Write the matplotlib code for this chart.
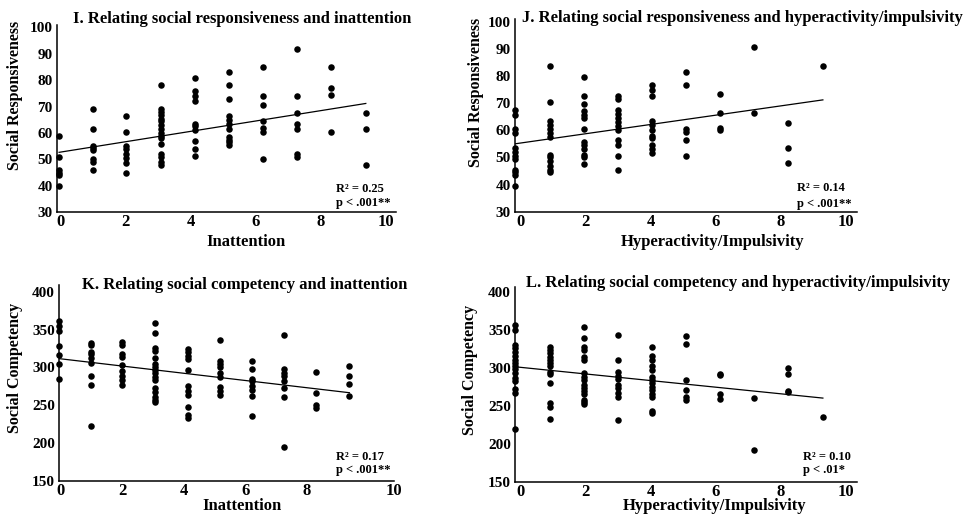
import matplotlib
matplotlib.use("Agg")
import matplotlib.pyplot as plt

# Values (one list per score level)
resp_inatt = [
    [59, 51, 46, 45, 44, 40],
    [69, 61.5, 55, 54.5, 53.5, 50, 49, 46],
    [66.5, 60.5, 55, 54, 52, 50.5, 48.5, 45],
    [78, 69, 68, 67, 65.5, 64.5, 63, 61.5, 60, 59, 58, 56, 52, 51, 49, 48],
    [81, 76, 74, 72, 63.5, 62.5, 61, 57, 54, 51.5],
    [83, 78, 73, 66.5, 65, 63.5, 61.5, 58.5, 57.5, 56.5, 55.5],
    [85, 74, 70.5, 64.5, 62, 60.5, 50],
    [92, 74, 67.5, 63.5, 61.5, 52, 51],
    [85, 77, 74.5, 60.5],
    [67.5, 61.5, 48],
]
resp_hyper = [
    [67.5, 65.5, 60.5, 59, 53.5, 52, 50.5, 49.5, 45.5, 44.5, 43.5, 39.5],
    [83.5, 70.5, 63.5, 62, 60.5, 59, 57.5, 51, 50, 48.5, 47, 45.5, 44.5],
    [79.5, 72.5, 69.5, 67, 65.5, 64.5, 60.5, 55.5, 54.5, 53, 51, 50, 47.5],
    [72.5, 71.5, 67.5, 66, 64.5, 63, 61.5, 60, 56.5, 54.5, 50.5, 45.5],
    [76.5, 75, 72.5, 63.5, 62, 60, 58, 57, 54.5, 53, 51.5],
    [81.5, 76.5, 60.5, 59.5, 56.5, 50.5],
    [73.5, 66.5, 61, 60],
    [90.5, 66.5],
    [62.5, 53.5, 48],
    [83.5],
]
comp_inatt = [
    [361, 354, 348, 328, 316, 304, 285],
    [332, 329, 320, 317, 312, 306, 289, 276, 222],
    [334, 330, 318, 314, 303, 295, 289, 283, 277],
    [358, 346, 326, 322, 312, 305, 300, 296, 292, 287, 283, 273, 267, 261, 257, 254],
    [324, 320, 315, 311, 297, 275, 269, 263, 247, 237, 233],
    [336, 309, 305, 300, 293, 287, 274, 269, 264],
    [308, 298, 285, 282, 275, 270, 262, 236],
    [343, 298, 293, 288, 282, 273, 261, 194],
    [294, 266, 250, 246],
    [302, 288, 278, 262],
]
comp_hyper = [
    [357, 350, 330, 326, 321, 316, 311, 307, 303, 298, 293, 287, 283, 272, 267, 219],
    [328, 324, 319, 315, 311, 306, 302, 295, 292, 280, 254, 249, 233],
    [354, 339, 327, 323, 315, 311, 293, 288, 284, 278, 274, 269, 265, 258, 255, 252],
    [344, 311, 294, 289, 285, 278, 273, 267, 261, 231],
    [327, 316, 311, 302, 297, 288, 284, 280, 275, 271, 266, 261, 243, 241],
    [342, 332, 284, 271, 261, 258],
    [292, 290, 265, 259],
    [260, 192],
    [300, 292, 270, 268],
    [235],
]

# where the score columns sit against the printed x ticks
x_inatt = [-0.05, 1.0, 2.0, 3.08, 4.13, 5.18, 6.22, 7.27, 8.32, 9.39]
x_hyper = [-0.18, 0.9, 1.95, 3.0, 4.04, 5.09, 6.13, 7.18, 8.22, 9.3]

# regression line end values (at first and last column)
fit_I = [52.7, 71.2]
fit_J = [55.0, 71.2]
fit_K = [311.5, 266.4]
fit_L = [301.5, 260.2]

titles = [
    "I. Relating social responsiveness and inattention",
    "J. Relating social responsiveness and hyperactivity/impulsivity",
    "K. Relating social competency and inattention",
    "L. Relating social competency and hyperactivity/impulsivity",
]
ylabels = ["Social Responsiveness", "Social Responsiveness", "Social Competency", "Social Competency"]
xlabels = ["Inattention", "Hyperactivity/Impulsivity", "Inattention", "Hyperactivity/Impulsivity"]
stats = [("R\u00b2 = 0.25", "p < .001**"), ("R\u00b2 = 0.14", "p < .001**"),
         ("R\u00b2 = 0.17", "p < .001**"), ("R\u00b2 = 0.10", "p < .01*")]

xtick_labels = ["0", "2", "4", "6", "8", "10"]
xtick_pos = [0, 2, 4, 6, 8, 10]
xtick_pos_K = [0, 2, 4, 6, 8, 10.84]   # the "10" in panel K is pushed off the axis
yticks_resp = [30, 40, 50, 60, 70, 80, 90, 100]
yticks_comp = [150, 200, 250, 300, 350, 400]

W, H = 969, 514
plt.rcParams["font.family"] = ["Liberation Serif", "DejaVu Serif"]
plt.rcParams["font.weight"] = "bold"

fig = plt.figure(figsize=(W / 100, H / 100), dpi=100)


def px(x, y):
    return x / W, 1 - y / H


# panel boxes in pixels: left, right, top, bottom, ylim, xlim
panels = [
    dict(box=(57, 396, 25, 212.3), ylim=(30, 100.9), xlim=(-0.114, 10.32), data=resp_inatt, xs=x_inatt,
         fit=fit_I, yt=yticks_resp, xt=xtick_pos, title=(242, 19), ylab=(15, 95), xlab=(246, 242),
         stat=(336, 189, 203)),
    dict(box=(515, 857, 19, 211.7), ylim=(30, 101), xlim=(-0.175, 10.35), data=resp_hyper, xs=x_hyper,
         fit=fit_J, yt=yticks_resp, xt=xtick_pos, title=(742, 18), ylab=(476, 92), xlab=(713, 242),
         stat=(797, 188, 204)),
    dict(box=(59, 394, 285, 480.7), ylim=(150, 408.9), xlim=(-0.052, 10.26), data=comp_inatt, xs=x_inatt,
         fit=fit_K, yt=yticks_comp, xt=xtick_pos_K, title=(245, 285), ylab=(15, 368), xlab=(242, 506.5),
         stat=(336, 457, 470)),
    dict(box=(515, 857, 286.7, 481.7), ylim=(150, 407), xlim=(-0.175, 10.35), data=comp_hyper, xs=x_hyper,
         fit=fit_L, yt=yticks_comp, xt=xtick_pos, title=(738, 283), ylab=(470, 370), xlab=(715, 506.5),
         stat=(803, 457, 470)),
]

for i, p in enumerate(panels):
    l, r, t, b = p["box"]
    ax = fig.add_axes([l / W, 1 - b / H, (r - l) / W, (b - t) / H])
    for xv, col in zip(p["xs"], p["data"]):
        ax.scatter([xv] * len(col), col, s=22, color="black", linewidths=0, clip_on=False, zorder=3)
    ax.plot([p["xs"][0], p["xs"][-1]], p["fit"], color="black", lw=0.9, zorder=2)

    ax.set_xlim(*p["xlim"])
    ax.set_ylim(*p["ylim"])
    ax.set_xticks(p["xt"], xtick_labels)
    ax.set_yticks(p["yt"])
    ax.tick_params(axis="x", length=0, pad=1.5, labelsize=12)
    ax.tick_params(axis="y", length=0, pad=3, labelsize=11)
    for lab in ax.get_xticklabels() + ax.get_yticklabels():
        lab.set_fontweight("bold")
    for s in ["top", "right"]:
        ax.spines[s].set_visible(False)
    for s in ["left", "bottom"]:
        ax.spines[s].set_linewidth(1.1)
        ax.spines[s].set_color("black")
    ax.patch.set_visible(False)

    fig.text(*px(*p["title"]), titles[i], ha="center", va="center", fontsize=12, fontweight="bold")
    fig.text(*px(*p["ylab"]), ylabels[i], ha="center", va="center", rotation=90,
             fontsize=11.5, fontweight="bold")
    fig.text(*px(*p["xlab"]), xlabels[i], ha="center", va="center", fontsize=12, fontweight="bold")
    sx, sy1, sy2 = p["stat"]
    fig.text(*px(sx, sy1), stats[i][0], ha="left", va="center", fontsize=9, fontweight="bold")
    fig.text(*px(sx, sy2), stats[i][1], ha="left", va="center", fontsize=9, fontweight="bold")

fig.savefig("out.png", dpi=100)
